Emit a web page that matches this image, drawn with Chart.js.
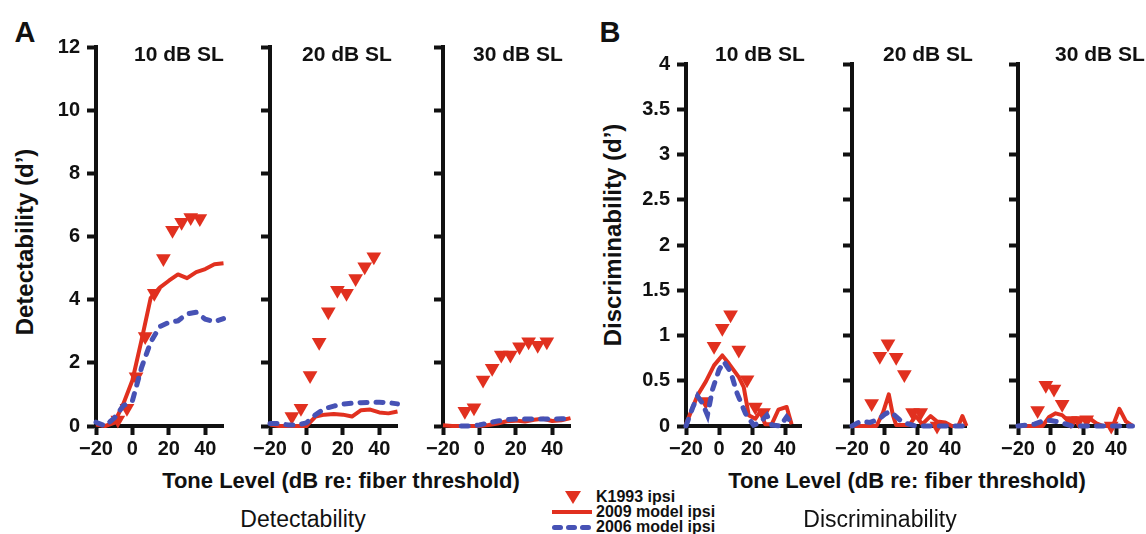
<!DOCTYPE html>
<html>
<head>
<meta charset="utf-8">
<script src="https://cdn.jsdelivr.net/npm/chart.js@4.4.1/dist/chart.umd.min.js"></script>
<style>
  body { margin: 0; background: #fff; }
  #fig { position: relative; width: 1146px; height: 534px; overflow: hidden;
         font-family: "Liberation Sans", Arial, Helvetica, sans-serif; color: #111; }
  #fig canvas { position: absolute; }
  .t { position: absolute; white-space: nowrap; transform: translate(-50%, -50%); line-height: 1; font-weight: bold; }
  .panel-title { font-size: 21px; }
  .axis-title { font-size: 22px; }
  .y-title { font-size: 24px; transform: translate(-50%, -50%) rotate(-90deg); }
  .letter { font-size: 29px; }
  .caption { font-size: 23px; font-weight: normal; }
  .leg { position: absolute; font-size: 16px; font-weight: bold; line-height: 1; white-space: nowrap; transform: translateY(-50%); }
  .mark { position: absolute; }
</style>
</head>
<body>
<div id="fig"></div>
<script>
// ---- data ----
const xTicks = [-20, 0, 20, 40];
const levels = ["10 dB SL", "20 dB SL", "30 dB SL"];

// K1993 ipsi: tone levels shared by all panels
const k1993X = [-8, -3, 2, 7, 12, 17, 22, 27, 32, 37];

// A: detectability
const detK10 = [0.19, 0.56, 1.56, 2.83, 4.2, 5.3, 6.2, 6.45, 6.6, 6.57];
const detK20 = [0.3, 0.56, 1.6, 2.65, 3.62, 4.3, 4.2, 4.67, 5.04, 5.36];
const detK30 = [0.47, 0.58, 1.46, 1.83, 2.25, 2.25, 2.51, 2.67, 2.56, 2.67];

const modelX = [-20, -15, -10, -5, 0, 5, 10, 15, 20, 25, 30, 35, 40, 45, 50];
const det09_10 = [0.05, 0, 0.1, 0.7, 1.45, 2.72, 4.05, 4.38, 4.6, 4.8, 4.68, 4.87, 4.97, 5.12, 5.15];
const det06_10 = [0.12, 0, 0.25, 0.64, 0.8, 1.85, 2.65, 3.15, 3.28, 3.33, 3.55, 3.6, 3.38, 3.3, 3.4];
const det09_20 = [0.05, 0, 0, 0, 0, 0.3, 0.36, 0.38, 0.36, 0.3, 0.5, 0.52, 0.43, 0.4, 0.46];
const det06_20 = [0.08, 0.08, 0.03, 0.03, 0.1, 0.36, 0.55, 0.63, 0.69, 0.72, 0.74, 0.75, 0.75, 0.74, 0.7];
const det09_30 = [0.02, 0, 0, 0, 0, 0.03, 0.08, 0.15, 0.17, 0.14, 0.2, 0.23, 0.16, 0.18, 0.25];
const det06_30 = [null, null, 0, 0, 0.03, 0.1, 0.16, 0.2, 0.22, 0.22, 0.22, 0.22, 0.22, 0.23, 0.23];

// B: discriminability
const disK10 = [0.27, 0.88, 1.08, 1.23, 0.84, 0.51, 0.21, 0.15, null, null];
const disK20 = [0.25, 0.77, 0.91, 0.76, 0.57, 0.15, 0.15, null, 0, null];
const disK30 = [0.17, 0.45, 0.41, 0.24, 0.06, 0.06, 0.07, null, null, 0];

const dis09X_10 = [-20, -13, -8, -3, 2, 6, 12, 15, 18, 22, 25, 28, 32, 36, 41, 44];
const dis09_10 = [0.02, 0.34, 0.49, 0.67, 0.78, 0.69, 0.54, 0.43, 0.12, 0.08, 0.16, 0.02, 0.02, 0.18, 0.21, 0.02];
const dis06X_10 = [-20, -16, -13, -10, -7, -4, 0, 3, 7, 11, 16, 21, 25, 29, 32, 37, 41, 45];
const dis06_10 = [0, 0.2, 0.33, 0.25, 0.12, 0.4, 0.62, 0.71, 0.6, 0.36, 0.14, 0.01, 0.04, 0.12, 0.01, 0, 0.1, 0.01];

const dis09X_20 = [-20, -5, -1, 2.5, 5, 7, 15, 19, 23, 28, 32, 37, 41, 45, 47.5, 50];
const dis09_20 = [0, 0, 0.15, 0.35, 0.12, 0.01, 0.01, 0.11, 0.02, 0.11, 0.05, 0.04, 0, 0, 0.11, 0];
const dis06X_20 = [-20, -15, -9, -4, 0, 3, 6, 11, 19, 50];
const dis06_20 = [0, 0.05, 0.04, 0.07, 0.13, 0.16, 0.12, 0.04, 0, 0];

const dis09X_30 = [-20, -5, -1, 3, 7, 10, 13, 15, 24, 28, 32, 38, 42, 46, 50];
const dis09_30 = [0, 0, 0.1, 0.14, 0.12, 0.07, 0, 0.08, 0.08, 0.03, 0, 0, 0.19, 0.05, 0];
const dis06X_30 = [-20, -10, -4, 0, 6, 13, 50];
const dis06_30 = [0, 0.02, 0.06, 0.06, 0.04, 0, 0];

// ---- drawing ----
const RED = "#e1301f";
const BLUE = "#4752b5";
const INK = "#111";
const FONT = '"Liberation Sans", Arial, Helvetica, sans-serif';
const fig = document.getElementById("fig");

function pts(xs, ys) {
    return xs.map((x, i) => ({ x: x, y: ys[i] })).filter(p => p.y !== null && p.y !== undefined);
}

// margins of each canvas around its plot area
const L = 50, T = 20, R = 6, B = 34;

function makePanel(p) {
    const cv = document.createElement("canvas");
    cv.width = L + p.w + R;
    cv.height = T + p.h + B;
    cv.style.left = (p.left - L) + "px";
    cv.style.top = (p.top - T) + "px";
    fig.appendChild(cv);

    const grid = { drawOnChartArea: false, drawTicks: true, tickLength: 9, tickWidth: 4, tickColor: INK };
    const border = { display: true, width: 4, color: INK };
    const tickFont = { family: FONT, size: 20, weight: "bold" };

    new Chart(cv, {
        type: "scatter",
        data: {
            datasets: [
                { label: "2006 model ipsi", data: pts(p.blueX, p.blueY), showLine: true, borderColor: BLUE,
                  borderWidth: 5, borderDash: [7, 9], borderCapStyle: "round", pointRadius: 0, tension: 0, clip: false },
                { label: "2009 model ipsi", data: pts(p.redX, p.redY), showLine: true, borderColor: RED,
                  borderWidth: 4, borderJoinStyle: "round", pointRadius: 0, tension: 0, clip: false },
                { label: "K1993 ipsi", data: pts(k1993X, p.kY), showLine: false, pointStyle: "triangle",
                  rotation: 180, pointRadius: 8.5, backgroundColor: RED, borderColor: RED, borderWidth: 0, clip: false }
            ]
        },
        options: {
            responsive: false,
            animation: false,
            events: [],
            layout: { padding: { top: T, right: R, left: 0, bottom: 0 } },
            plugins: { legend: { display: false }, tooltip: { enabled: false } },
            scales: {
                x: {
                    type: "linear", min: -20, max: 50,
                    afterBuildTicks: axis => { axis.ticks = xTicks.map(v => ({ value: v })); },
                    afterFit: s => { s.height = B; },
                    grid: grid, border: border,
                    ticks: { color: INK, font: tickFont, padding: 2, maxRotation: 0, autoSkip: false,
                             callback: v => v < 0 ? "\u2212" + (-v) : String(v) }
                },
                y: {
                    min: 0, max: p.yMax,
                    afterFit: s => { s.width = L; },
                    grid: grid, border: border,
                    ticks: { display: p.labels, stepSize: p.yStep, color: INK, font: tickFont, padding: 7, autoSkip: false,
                             callback: v => String(v) }
                }
            }
        }
    });
}

const panels = [
    { left: 96, top: 47, w: 130, h: 379, yMax: 12, yStep: 2, labels: true,
      kY: detK10, redX: modelX, redY: det09_10, blueX: modelX, blueY: det06_10 },
    { left: 270, top: 47, w: 130, h: 379, yMax: 12, yStep: 2, labels: false,
      kY: detK20, redX: modelX, redY: det09_20, blueX: modelX, blueY: det06_20 },
    { left: 443, top: 47, w: 130, h: 379, yMax: 12, yStep: 2, labels: false,
      kY: detK30, redX: modelX, redY: det09_30, blueX: modelX, blueY: det06_30 },
    { left: 686, top: 64, w: 118, h: 362, yMax: 4, yStep: 0.5, labels: true,
      kY: disK10, redX: dis09X_10, redY: dis09_10, blueX: dis06X_10, blueY: dis06_10 },
    { left: 852, top: 64, w: 117, h: 362, yMax: 4, yStep: 0.5, labels: false,
      kY: disK20, redX: dis09X_20, redY: dis09_20, blueX: dis06X_20, blueY: dis06_20 },
    { left: 1018, top: 64, w: 117, h: 362, yMax: 4, yStep: 0.5, labels: false,
      kY: disK30, redX: dis09X_30, redY: dis09_30, blueX: dis06X_30, blueY: dis06_30 }
];
panels.forEach(makePanel);

// ---- text and legend ----
function text(str, x, y, cls) {
    const d = document.createElement("div");
    d.className = "t " + cls;
    d.textContent = str;
    d.style.left = x + "px";
    d.style.top = y + "px";
    fig.appendChild(d);
}

text("A", 25, 32, "letter");
text("B", 610, 32, "letter");
[179, 347, 518].forEach((x, i) => text(levels[i], x, 53, "panel-title"));
[760, 928, 1100].forEach((x, i) => text(levels[i], x, 53, "panel-title"));
text("Detectability (d\u2019)", 25, 242, "y-title");
text("Discriminability (d\u2019)", 613, 235, "y-title");
text("Tone Level (dB re: fiber threshold)", 341, 481, "axis-title");
text("Tone Level (dB re: fiber threshold)", 907, 481, "axis-title");
text("Detectability", 303, 519, "caption");
text("Discriminability", 880, 519, "caption");

function box(x, y, w, h, css) {
    const d = document.createElement("div");
    d.className = "mark";
    d.style.left = x + "px"; d.style.top = y + "px";
    d.style.width = w + "px"; d.style.height = h + "px";
    Object.assign(d.style, css);
    fig.appendChild(d);
}
// triangle
box(565, 491, 0, 0, { borderLeft: "8px solid transparent", borderRight: "8px solid transparent", borderTop: "13px solid " + RED });
// solid red line
box(552, 510, 40, 4, { background: RED });
// dashed blue line
[552, 566, 580].forEach(x => box(x, 525, 11, 5, { background: BLUE, borderRadius: "2.5px" }));

[["K1993 ipsi", 497], ["2009 model ipsi", 512], ["2006 model ipsi", 527]].forEach(([s, y]) => {
    const d = document.createElement("div");
    d.className = "leg";
    d.textContent = s;
    d.style.left = "596px";
    d.style.top = y + "px";
    fig.appendChild(d);
});
</script>
</body>
</html>
